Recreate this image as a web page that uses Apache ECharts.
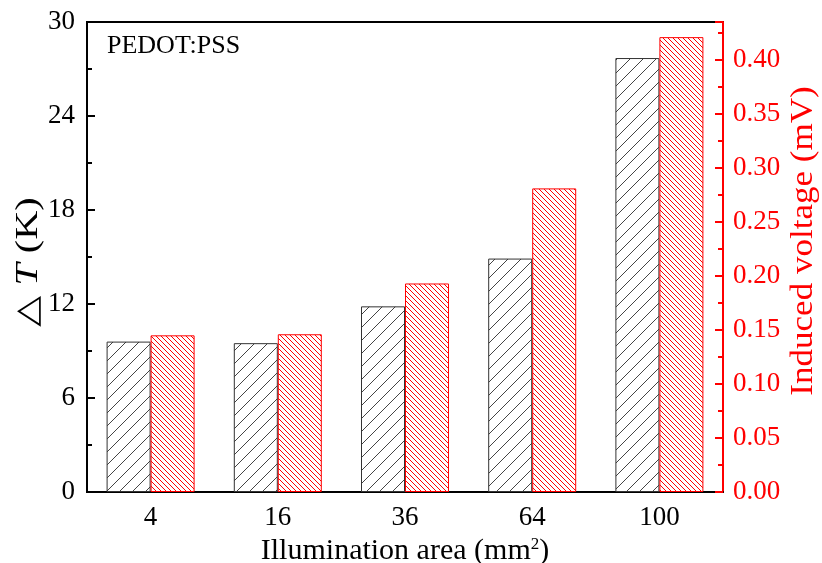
<!DOCTYPE html>
<html><head><meta charset="utf-8">
<script src="https://cdn.jsdelivr.net/npm/echarts@6/dist/echarts.min.js"></script>
<style>html,body{margin:0;padding:0;background:#fff}#c{width:822px;height:563px}</style>
</head><body><div id="c"></div>
<script>
const categories = ['4', '16', '36', '64', '100'];
const deltaT = [9.6, 9.5, 11.85, 14.9, 27.7];
const voltage = [0.145, 0.146, 0.193, 0.281, 0.421];

function hatch(color, size, forward, lw) {
  const c = document.createElement('canvas');
  c.width = c.height = size;
  const ctx = c.getContext('2d');
  ctx.fillStyle = '#fff';
  ctx.fillRect(0, 0, size, size);
  ctx.strokeStyle = color;
  ctx.lineWidth = lw;
  ctx.beginPath();
  if (forward) {
    ctx.moveTo(0, size); ctx.lineTo(size, 0);
    ctx.moveTo(-1, 1); ctx.lineTo(1, -1);
    ctx.moveTo(size - 1, size + 1); ctx.lineTo(size + 1, size - 1);
  } else {
    ctx.moveTo(0, 0); ctx.lineTo(size, size);
    ctx.moveTo(-1, size - 1); ctx.lineTo(1, size + 1);
    ctx.moveTo(size - 1, -1); ctx.lineTo(size + 1, 1);
  }
  ctx.stroke();
  return c;
}

const font = 'Liberation Serif';
const chart = echarts.init(document.getElementById('c'));
chart.setOption({
  animation: false,
  backgroundColor: '#fff',
  grid: { left: 87, right: 99, top: 22, bottom: 71, containLabel: false, outerBoundsMode: 'none',
    show: true, borderColor: '#000', borderWidth: 2, backgroundColor: 'transparent' },
  xAxis: [{
    type: 'category', data: categories, position: 'bottom',
    axisLine: { lineStyle: { color: '#000', width: 2 } },
    axisTick: { inside: true, alignWithLabel: true, length: 8, lineStyle: { color: '#000', width: 2 } },
    axisLabel: { color: '#000', fontFamily: font, fontSize: 27, margin: 12 },
    name: 'Illumination area (mm{sup|2})', nameLocation: 'middle', nameGap: 36,
    nameTextStyle: { color: '#000', fontFamily: font, fontSize: 30,
      rich: { sup: { fontFamily: font, fontSize: 17, verticalAlign: 'top', padding: [0, 0, 14, 0], color: '#000' } } }
  }, {
    type: 'category', data: categories, position: 'bottom',
    axisLine: { show: false },
    axisTick: { inside: true, length: 5, lineStyle: { color: '#000', width: 2 } },
    axisLabel: { show: false }
  }],
  yAxis: [{
    type: 'value', min: 0, max: 30, interval: 6, position: 'left',
    axisLine: { show: true, lineStyle: { color: '#000', width: 2 } },
    axisTick: { show: true, inside: true, length: 8, lineStyle: { color: '#000', width: 2 } },
    minorTick: { show: true, splitNumber: 2, length: 5, lineStyle: { color: '#000', width: 2 } },
    splitLine: { show: false },
    axisLabel: { color: '#000', fontFamily: font, fontSize: 27, margin: 12 }
  }, {
    type: 'value', min: 0, max: 0.435, interval: 0.05, position: 'right',
    axisLine: { show: true, lineStyle: { color: '#f00', width: 2 } },
    axisTick: { show: true, inside: true, length: 8, lineStyle: { color: '#f00', width: 2 } },
    minorTick: { show: true, splitNumber: 2, length: 5, lineStyle: { color: '#f00', width: 2 } },
    splitLine: { show: false },
    axisLabel: { color: '#f00', fontFamily: font, fontSize: 27, margin: 10, showMaxLabel: false, formatter: v => v.toFixed(2) }
  }],
  graphic: [{
    type: 'text', left: 107, top: 33,
    style: { text: 'PEDOT:PSS', fontFamily: font, fontSize: 26, fill: '#000' }
  }, {
    type: 'text', x: 29, y: 262, rotation: Math.PI / 2, scaleX: 1.3,
    style: { text: '{d|△} {t|T} {k|(K)}', align: 'center', verticalAlign: 'middle', fontFamily: font, fontSize: 31, fill: '#000',
      rich: { d: { fontFamily: 'DejaVu Sans', fontSize: 31, fill: '#000' },
              t: { fontFamily: font, fontStyle: 'italic', fontSize: 31, fill: '#000' },
              k: { fontFamily: font, fontSize: 31, fill: '#000' } } }
  }, {
    type: 'text', x: 804, y: 241, rotation: Math.PI / 2, scaleX: 1.13,
    style: { text: 'Induced voltage (mV)', align: 'center', verticalAlign: 'middle', fontFamily: font, fontSize: 31, fill: '#f00' }
  }],
  series: [{
    type: 'bar', xAxisIndex: 0, yAxisIndex: 0, data: deltaT, barWidth: 44, barGap: '0%',
    itemStyle: { color: { image: hatch('#444', 13, true, 1), repeat: 'repeat' }, borderColor: '#333', borderWidth: 1 }
  }, {
    type: 'bar', xAxisIndex: 0, yAxisIndex: 1, data: voltage, barWidth: 44, barGap: '0%',
    itemStyle: { color: { image: hatch('#f00', 5, false, 1), repeat: 'repeat' }, borderColor: '#f00', borderWidth: 1 }
  }]
});
</script></body></html>
